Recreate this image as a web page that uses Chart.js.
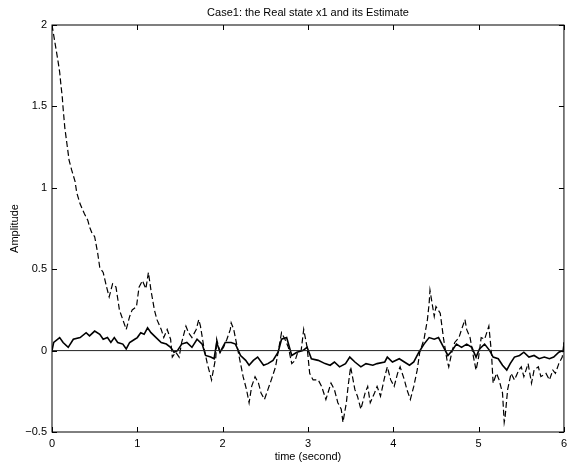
<!DOCTYPE html>
<html>
<head>
<meta charset="utf-8">
<script src="https://cdn.jsdelivr.net/npm/chart.js@4/dist/chart.umd.min.js"></script>
<style>
  html, body { margin: 0; padding: 0; background: #fff; }
  #wrap { width: 572px; height: 468px; }
</style>
</head>
<body>
<div id="wrap"><canvas id="chart"></canvas></div>
<script>
// estimate of x1 (dashed)
const estTime = [0, 0.035, 0.07, 0.09, 0.105, 0.12, 0.13, 0.15, 0.17, 0.2, 0.23, 0.27, 0.29, 0.33, 0.38, 0.42, 0.44, 0.47, 0.5,
  0.535, 0.56, 0.6, 0.64, 0.67, 0.71, 0.75, 0.79, 0.83, 0.87, 0.91, 0.94, 0.99, 1.02, 1.06, 1.1, 1.13, 1.16, 1.2, 1.23, 1.28,
  1.31, 1.35, 1.39, 1.41, 1.45, 1.49, 1.52, 1.57, 1.6, 1.64, 1.69, 1.72, 1.74, 1.78, 1.82, 1.86, 1.87, 1.92, 1.93, 1.97, 2.01,
  2.05, 2.09, 2.1, 2.13, 2.16, 2.21, 2.24, 2.28, 2.31, 2.34, 2.38, 2.42, 2.45, 2.49, 2.53, 2.57, 2.62, 2.65, 2.69, 2.73, 2.77,
  2.81, 2.85, 2.88, 2.92, 2.95, 2.99, 3.02, 3.06, 3.12, 3.16, 3.21, 3.27, 3.31, 3.35, 3.39, 3.41, 3.45, 3.47, 3.5, 3.55, 3.58,
  3.62, 3.67, 3.7, 3.73, 3.78, 3.81, 3.85, 3.9, 3.93, 3.97, 4.01, 4.05, 4.08, 4.13, 4.16, 4.2, 4.24, 4.28, 4.31, 4.36, 4.4,
  4.42, 4.43, 4.48, 4.5, 4.55, 4.56, 4.59, 4.63, 4.65, 4.69, 4.72, 4.77, 4.8, 4.84, 4.86, 4.9, 4.94, 4.97, 5.0, 5.03, 5.07,
  5.12, 5.15, 5.17, 5.21, 5.24, 5.28, 5.3, 5.31, 5.34, 5.38, 5.42, 5.47, 5.5, 5.53, 5.58, 5.62, 5.65, 5.7, 5.73, 5.79, 5.83,
  5.87, 5.9, 5.94, 5.98, 6.0];
const estValue = [2.0, 1.89, 1.78, 1.71, 1.63, 1.56, 1.49, 1.37, 1.29, 1.17, 1.11, 1.04, 0.97, 0.90, 0.84, 0.80, 0.76, 0.72, 0.70,
  0.60, 0.51, 0.48, 0.39, 0.33, 0.41, 0.39, 0.25, 0.19, 0.13, 0.21, 0.25, 0.27, 0.39, 0.43, 0.38, 0.48, 0.37, 0.25, 0.19, 0.13,
  0.08, 0.13, 0.07, -0.04, -0.01, -0.04, 0.05, 0.15, 0.11, 0.08, 0.13, 0.19, 0.15, 0.02, -0.08, -0.16, -0.18, -0.04, 0.07, -0.01, 0.02,
  0.07, 0.13, 0.17, 0.13, 0.05, -0.08, -0.16, -0.24, -0.32, -0.22, -0.16, -0.2, -0.26, -0.30, -0.24, -0.18, -0.1, -0.01, 0.11, 0.07, 0.02,
  -0.08, -0.06, -0.01, 0.0, 0.13, 0.02, -0.14, -0.18, -0.18, -0.22, -0.30, -0.2, -0.24, -0.32, -0.36, -0.44, -0.32, -0.22, -0.1, -0.24, -0.28,
  -0.36, -0.26, -0.22, -0.32, -0.26, -0.22, -0.28, -0.16, -0.1, -0.18, -0.22, -0.14, -0.1, -0.18, -0.24, -0.30, -0.22, -0.12, -0.01, 0.07, 0.19,
  0.29, 0.37, 0.21, 0.27, 0.23, 0.19, 0.07, -0.06, -0.1, 0.0, 0.05, 0.08, 0.13, 0.19, 0.13, 0.08, -0.04, -0.12, -0.04, 0.08, 0.07,
  0.15, -0.01, -0.2, -0.14, -0.18, -0.26, -0.44, -0.41, -0.24, -0.14, -0.18, -0.12, -0.1, -0.16, -0.08, -0.2, -0.12, -0.1, -0.16, -0.14, -0.18,
  -0.12, -0.14, -0.08, -0.04, 0.05];

// real state x1 (solid)
const realTime = [0, 0.02, 0.09, 0.13, 0.19, 0.25, 0.33, 0.40, 0.44, 0.5, 0.56, 0.6, 0.65, 0.69, 0.73, 0.77, 0.83, 0.87, 0.91, 0.97,
  1.0, 1.04, 1.08, 1.12, 1.16, 1.22, 1.28, 1.34, 1.39, 1.43, 1.47, 1.52, 1.58, 1.64, 1.7, 1.76, 1.8, 1.86, 1.9, 1.93, 1.97,
  2.03, 2.1, 2.15, 2.21, 2.27, 2.31, 2.36, 2.41, 2.48, 2.53, 2.59, 2.65, 2.69, 2.75, 2.81, 2.87, 2.94, 2.99, 3.04, 3.12, 3.2,
  3.26, 3.31, 3.37, 3.44, 3.49, 3.55, 3.62, 3.68, 3.76, 3.81, 3.9, 3.93, 3.99, 4.07, 4.13, 4.19, 4.24, 4.3, 4.36, 4.42, 4.48,
  4.53, 4.59, 4.64, 4.69, 4.74, 4.8, 4.86, 4.92, 4.97, 5.01, 5.07, 5.13, 5.17, 5.23, 5.28, 5.33, 5.37, 5.42, 5.48, 5.53, 5.59,
  5.65, 5.71, 5.77, 5.83, 5.88, 5.94, 5.99, 6.0];
const realValue = [0, 0.05, 0.08, 0.05, 0.02, 0.07, 0.08, 0.11, 0.09, 0.12, 0.10, 0.07, 0.08, 0.05, 0.08, 0.05, 0.04, 0.01, 0.05, 0.07,
  0.08, 0.11, 0.10, 0.14, 0.11, 0.08, 0.05, 0.04, 0.02, -0.01, 0.0, 0.04, 0.05, 0.02, 0.07, 0.04, -0.03, -0.04, -0.05, 0.05, -0.01,
  0.05, 0.05, 0.04, -0.03, -0.06, -0.09, -0.06, -0.04, -0.09, -0.08, -0.06, -0.01, 0.07, 0.08, -0.03, -0.01, 0.0, 0.02, -0.05, -0.06, -0.08,
  -0.09, -0.07, -0.10, -0.08, -0.04, -0.07, -0.10, -0.08, -0.09, -0.08, -0.07, -0.04, -0.07, -0.05, -0.07, -0.09, -0.07, -0.01, 0.04, 0.08, 0.07,
  0.08, 0.02, -0.03, 0.0, 0.04, 0.02, 0.04, 0.02, -0.04, 0.01, 0.04, 0.0, -0.04, -0.05, -0.09, -0.12, -0.08, -0.04, -0.03, -0.01, -0.04,
  -0.03, -0.05, -0.04, -0.05, -0.04, -0.01, 0.0, 0.05];

// zero reference line
const zeroTime = [0, 6];
const zeroValue = [0, 0];

const xTickValues = [0, 1, 2, 3, 4, 5, 6];
const yTickValues = [-0.5, 0, 0.5, 1, 1.5, 2];

function toPoints(xs, ys) {
  return xs.map((x, i) => ({ x: x, y: ys[i] }));
}

const font = { family: "'Liberation Sans', Arial, sans-serif", size: 11, weight: 'normal' };

// MATLAB style box with inward ticks
const boxPlugin = {
  id: 'matlabBox',
  afterDraw(chart) {
    const ctx = chart.ctx;
    const a = chart.chartArea;
    const sx = chart.scales.x, sy = chart.scales.y;
    ctx.save();
    ctx.strokeStyle = '#000';
    ctx.lineWidth = 1;
    ctx.strokeRect(a.left, a.top, a.right - a.left, a.bottom - a.top);
    ctx.beginPath();
    xTickValues.forEach(v => {
      const p = Math.round(sx.getPixelForValue(v)) + 0.5;
      ctx.moveTo(p, a.bottom); ctx.lineTo(p, a.bottom - 5);
      ctx.moveTo(p, a.top); ctx.lineTo(p, a.top + 5);
    });
    yTickValues.forEach(v => {
      const p = Math.round(sy.getPixelForValue(v)) + 0.5;
      ctx.moveTo(a.left, p); ctx.lineTo(a.left + 5, p);
      ctx.moveTo(a.right, p); ctx.lineTo(a.right - 5, p);
    });
    ctx.stroke();
    ctx.restore();
  }
};

const ctx = document.getElementById('chart').getContext('2d');

const config = {
  type: 'line',
  data: {
    datasets: [
      {
        label: 'zero',
        data: toPoints(zeroTime, zeroValue),
        borderColor: '#222',
        borderWidth: 1,
        pointRadius: 0
      },
      {
        label: 'Real state x1',
        data: toPoints(realTime, realValue),
        borderColor: '#000',
        borderWidth: 1.6,
        pointRadius: 0,
        tension: 0
      },
      {
        label: 'Estimate',
        data: toPoints(estTime, estValue),
        borderColor: '#000',
        borderWidth: 1.2,
        borderDash: [6, 3],
        pointRadius: 0,
        tension: 0
      }
    ]
  },
  options: {
    responsive: true,
    maintainAspectRatio: false,
    animation: false,
    layout: { padding: { left: 0, right: 4, top: 0, bottom: 0 } },
    plugins: {
      legend: { display: false },
      title: { display: false },
      tooltip: { enabled: false }
    },
    scales: {
      x: {
        type: 'linear',
        min: 0,
        max: 6,
        grid: { display: false, drawTicks: false },
        border: { display: false },
        ticks: { stepSize: 1, color: '#000', font: font, padding: 5, maxRotation: 0 },
        title: { display: true, text: 'time (second)', color: '#000', font: font, padding: { top: 0, bottom: 4 } },
        afterFit(scale) { scale.height = 36; }
      },
      x2: {
        type: 'linear',
        position: 'top',
        min: 0,
        max: 6,
        grid: { display: false, drawTicks: false },
        border: { display: false },
        ticks: { display: false },
        title: { display: true, text: 'Case1: the Real state x1 and its Estimate', color: '#000', font: font, padding: { top: 6, bottom: 0 } },
        afterFit(scale) { scale.height = 25; }
      },
      y: {
        min: -0.5,
        max: 2,
        grid: { display: false, drawTicks: false },
        border: { display: false },
        ticks: {
          stepSize: 0.5,
          color: '#000',
          font: font,
          padding: 5,
          callback: v => (v < 0 ? '\u2212' + Math.abs(v) : String(v))
        },
        title: { display: true, text: 'Amplitude', color: '#000', font: font, padding: { top: 8, bottom: 0 } },
        afterFit(scale) { scale.width = 52; }
      }
    }
  },
  plugins: [boxPlugin]
};

var chart = new Chart(ctx, config);
</script>
</body>
</html>
